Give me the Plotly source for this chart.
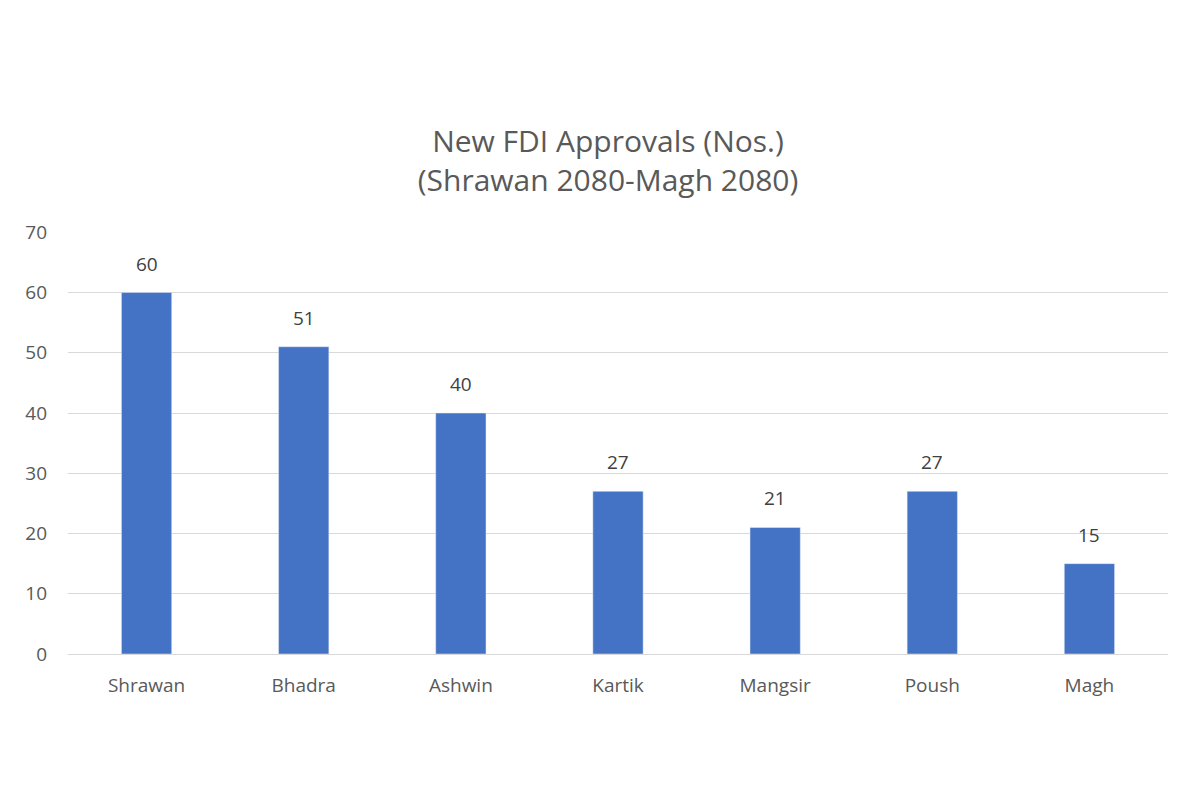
import plotly.graph_objects as go

months = ["Shrawan", "Bhadra", "Ashwin", "Kartik", "Mangsir", "Poush", "Magh"]
approvals = [60, 51, 40, 27, 21, 27, 15]
y_ticks = [0, 10, 20, 30, 40, 50, 60, 70]

fig = go.Figure(go.Bar(x=months, y=approvals, marker_color="#4472C4"))
for m, v in zip(months, approvals):
    fig.add_annotation(x=m, y=v, text=str(v), showarrow=False, yanchor="bottom",
                       yshift=14, font=dict(size=19, color="#404040"))
fig.update_layout(
    width=1200, height=800,
    margin=dict(l=60, r=40, t=224, b=154),
    paper_bgcolor="white", plot_bgcolor="white",
    font=dict(family="Open Sans", color="#595959", size=18),
    bargap=0.68, showlegend=False,
    title=dict(text="New FDI Approvals (Nos.)<br>(Shrawan 2080-Magh 2080)",
               x=0.5, xanchor="center", y=0.82, yanchor="middle",
               font=dict(size=30, color="#595959")),
    xaxis=dict(showline=True, linecolor="#D9D9D9", linewidth=1, ticks="",
               ticklabelstandoff=14, tickfont=dict(size=19, color="#595959")),
    yaxis=dict(range=[0, 70.05], tickvals=y_ticks, showgrid=True, gridcolor="#D9D9D9",
               zeroline=False, showline=False, ticks="", ticklabelstandoff=20,
               tickfont=dict(size=19, color="#595959")),
    shapes=[
        dict(type="line", xref="paper", yref="paper", x0=-0.06, x1=-0.06, y0=-0.133, y1=1.3365,
             line=dict(color="#D9D9D9", width=1)),
        dict(type="line", xref="paper", yref="paper", x0=1.0264, x1=1.0264, y0=-0.133, y1=1.3365,
             line=dict(color="#D9D9D9", width=1)),
    ],
)
fig.write_html("out.html")
